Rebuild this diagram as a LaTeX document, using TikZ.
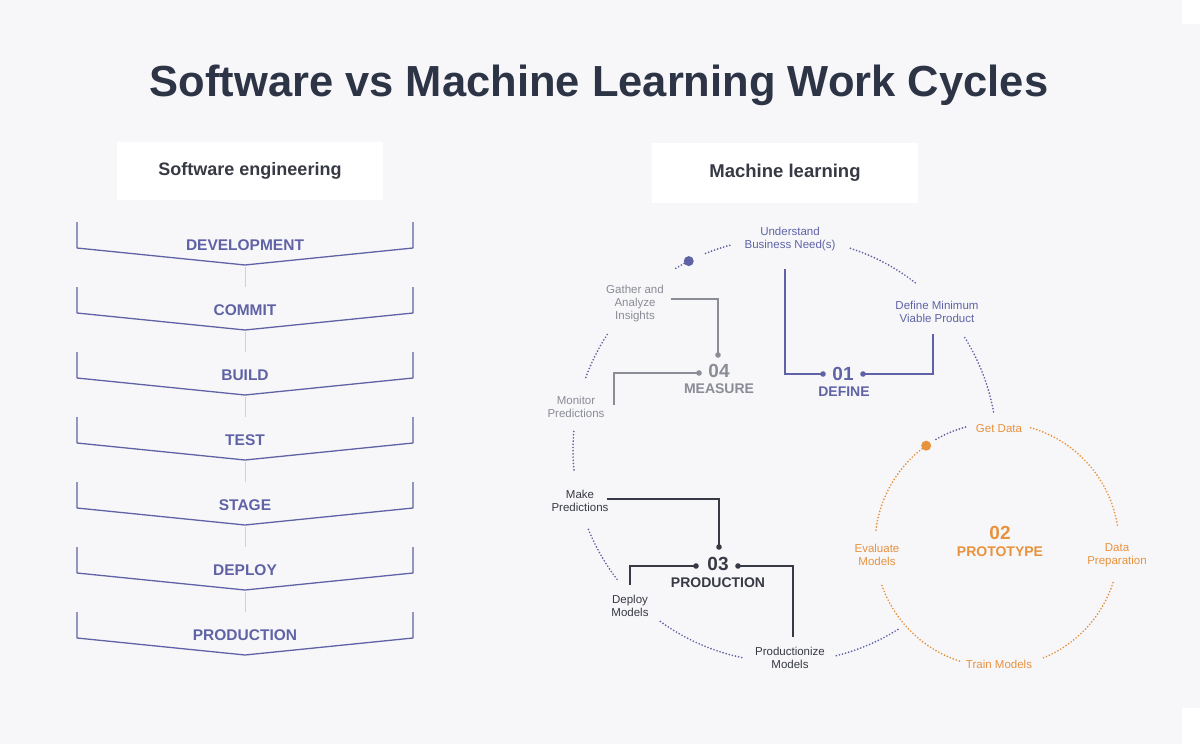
\documentclass[tikz,border=0pt]{standalone}
\usepackage{fontspec}
\setmainfont{Liberation Sans}
\definecolor{bgc}{RGB}{247,247,249}
\definecolor{titlec}{RGB}{45,52,70}
\definecolor{swblue}{RGB}{95,99,166}
\definecolor{greyc}{RGB}{138,140,150}
\definecolor{darkc}{RGB}{55,58,68}
\definecolor{orangec}{RGB}{232,146,62}
\definecolor{linkc}{RGB}{208,209,215}

\begin{document}
\begin{tikzpicture}[x=1pt,y=1pt,
    stageline/.style={draw=swblue,line width=1.3pt,line join=round},
    stagetext/.style={text=swblue,inner sep=0pt,font=\fontsize{15.5}{17}\selectfont\bfseries},
    label/.style={inner sep=0pt,align=center,font=\fontsize{11.5}{13}\selectfont},
    phnum/.style={inner sep=0pt,font=\fontsize{19}{21}\selectfont\bfseries},
    phname/.style={inner sep=0pt,font=\fontsize{14}{16}\selectfont\bfseries},
    dots/.style={line width=1.9pt,line cap=round,dash pattern=on 0pt off 3.2pt},
    phline/.style={line width=1.6pt}]
  \fill[bgc] (0,0) rectangle (1200,-744);
  \fill[white] (1182,0) rectangle (1200,-24);
  \fill[white] (1182,-708) rectangle (1200,-744);
  \useasboundingbox (0,0) rectangle (1200,-744);

  % title and headers
  \node[text=titlec,inner sep=0pt,font=\fontsize{43.5}{48}\selectfont\bfseries] (title) at (599,-85) {Software vs Machine Learning Work Cycles};
  \node[fill=white,minimum width=266pt,minimum height=58pt,text=darkc,font=\fontsize{18}{20}\selectfont\bfseries] (swhead) at (250,-171) {Software engineering};
  \node[fill=white,minimum width=266pt,minimum height=60pt,text=darkc,font=\fontsize{18.5}{20}\selectfont\bfseries] (mlhead) at (785,-173) {Machine learning};

  % software stages
  \foreach \name [count=\i from 0] in {DEVELOPMENT,COMMIT,BUILD,TEST,STAGE,DEPLOY,PRODUCTION}{
    \begin{scope}[yshift=-65*\i]
      \draw[stageline] (77,-222) -- (77,-248) -- (245,-265) -- (413,-248) -- (413,-222);
      \node[stagetext] (st\i) at (245,-245) {\name};
      \coordinate (top\i) at (245,-222);
      \coordinate (apex\i) at (245,-267);
    \end{scope}
  }
  \foreach \i [evaluate=\i as \j using int(\i+1)] in {0,...,5}
    \draw[linkc,line width=0.8pt] (apex\i) -- (top\j);

  % machine learning cycle
  \foreach \a/\b in {121/117,112/105,72/52,32/10,147/160,175/186,202/218,234/259,284/303}
    \draw[dots,swblue] (785,-450) ++(\a:212) arc[start angle=\a,end angle=\b,radius=212];
  \fill[swblue] (785,-450) ++(117:212) circle (5);
  \foreach \a/\b in {173/126,74/8,-18/-68,252/198}
    \draw[dots,orangec] (997,-545) ++(\a:122) arc[start angle=\a,end angle=\b,radius=122];
  \draw[dots,swblue] (997,-545) ++(120:122) arc[start angle=120,end angle=104,radius=122];
  \fill[orangec] (997,-545) ++(125.5:122) circle (5);

  \node[label,text=swblue] (need) at (790,-239) {Understand\\Business Need(s)};
  \node[label,text=swblue] (mvp) at (937,-312) {Define Minimum\\Viable Product};
  \node[label,text=greyc] (gather) at (635,-304) {Gather and\\Analyze\\Insights};
  \node[label,text=greyc] (monitor) at (576,-407) {Monitor\\Predictions};
  \node[label,text=darkc] (make) at (580,-501) {Make\\Predictions};
  \node[label,text=darkc] (deploy) at (630,-606) {Deploy\\Models};
  \node[label,text=darkc] (prodize) at (790,-658) {Productionize\\Models};
  \node[label,text=orangec] (getdata) at (999,-429) {Get Data};
  \node[label,text=orangec] (dataprep) at (1117,-555) {Data\\Preparation};
  \node[label,text=orangec] (train) at (999,-664) {Train Models};
  \node[label,text=orangec] (evaluate) at (877,-555) {Evaluate\\Models};

  % phases
  \node[phnum,text=greyc] (n04) at (719,-371) {04};
  \node[phname,text=greyc] (measure) at (719,-389) {MEASURE};
  \node[phnum,text=swblue] (n01) at (843,-374) {01};
  \node[phname,text=swblue] (define) at (844,-392) {DEFINE};
  \node[phnum,text=darkc] (n03) at (718,-564) {03};
  \node[phname,text=darkc] (production) at (718,-583) {PRODUCTION};
  \node[phnum,text=orangec] (n02) at (1000,-533) {02};
  \node[phname,text=orangec] (prototype) at (1000,-552) {PROTOTYPE};

  \coordinate (g4) at (671,-299);
  \coordinate (d4top) at (718,-355);
  \coordinate (d4left) at (699,-373);
  \coordinate (m4) at (614,-405);
  \draw[phline,greyc] (g4) -| (d4top);
  \draw[phline,greyc] (d4left) -| (m4);
  \fill[greyc] (d4top) circle (2.8) (d4left) circle (2.8);

  \coordinate (u1) at (785,-269);
  \coordinate (d1left) at (823,-374);
  \coordinate (d1right) at (863,-374);
  \coordinate (v1) at (933,-334);
  \draw[phline,swblue] (u1) |- (d1left);
  \draw[phline,swblue] (d1right) -| (v1);
  \fill[swblue] (d1left) circle (2.8) (d1right) circle (2.8);

  \coordinate (mk3) at (607,-499);
  \coordinate (d3top) at (719,-547);
  \coordinate (d3left) at (696,-566);
  \coordinate (dp3) at (630,-585);
  \coordinate (d3right) at (738,-566);
  \coordinate (pr3) at (793,-637);
  \draw[phline,darkc] (mk3) -| (d3top);
  \draw[phline,darkc] (d3left) -| (dp3);
  \draw[phline,darkc] (d3right) -| (pr3);
  \fill[darkc] (d3top) circle (2.8) (d3left) circle (2.8) (d3right) circle (2.8);
\end{tikzpicture}
\end{document}
